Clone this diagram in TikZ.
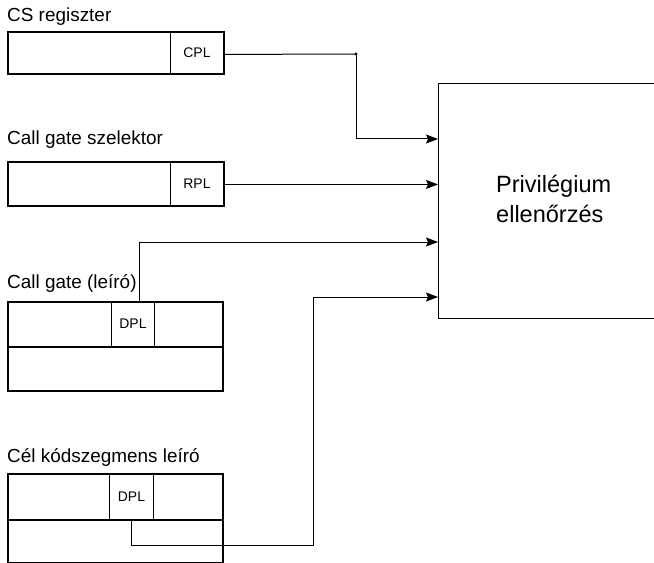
\documentclass[tikz,border=0pt]{standalone}
\usepackage{fontspec}
\setmainfont{Liberation Sans}
\usetikzlibrary{arrows.meta}
\begin{document}
\begin{tikzpicture}[x=1bp,y=-1bp,
  outer/.style={draw, line width=1.8bp, inner sep=0pt, anchor=north west},
  cellbox/.style={draw, line width=0.9bp, inner sep=0pt, anchor=north west,
    font=\fontsize{14}{16}\selectfont},
  title/.style={anchor=base west, inner sep=0pt, font=\fontsize{19}{22}\selectfont},
  big/.style={anchor=base west, inner sep=0pt, font=\fontsize{23.6}{28}\selectfont},
  wire/.style={line width=1bp},
  arr/.style={wire, -{Stealth[length=12bp,width=9bp,inset=2bp]}}]
\useasboundingbox (0,0) rectangle (654,563);
\clip (0,0) rectangle (654,563);

% CS register
\node[title] (tcs) at (7,22) {CS regiszter};
\node[cellbox, minimum width=53bp, minimum height=42bp] (cpl) at (170,31) {CPL};
\node[outer, minimum width=216bp, minimum height=42bp] (cs) at (7,31) {};

% call gate selector
\node[title] (tsel) at (7,145) {Call gate szelektor};
\node[cellbox, minimum width=53bp, minimum height=44bp] (rpl) at (170,161) {RPL};
\node[outer, minimum width=216bp, minimum height=44bp] (sel) at (7,161) {};

% call gate descriptor
\node[title] (tcgd) at (7,288) {Call gate (leíró)};
\node[cellbox, minimum width=43bp, minimum height=45bp] (cgdpl) at (111,301) {DPL};
\node[outer, minimum width=215bp, minimum height=89bp] (cgd) at (7,301) {};
\draw[line width=1.8bp] (cgd.west |- cgdpl.south) -- (cgd.east |- cgdpl.south);

% target code segment descriptor
\node[title] (tcel) at (7,462) {Cél kódszegmens leíró};
\node[cellbox, minimum width=44bp, minimum height=46bp] (celdpl) at (109,473) {DPL};
\node[outer, minimum width=215bp, minimum height=89bp] (cel) at (7,473) {};
\draw[line width=1.8bp] (cel.west |- celdpl.south) -- (cel.east |- celdpl.south);

% privilege check block
\node[draw, line width=0.9bp, inner sep=0pt, anchor=north west,
  minimum width=280bp, minimum height=235bp] (priv) at (438,83) {};
\node[big] (p1) at (496,193) {Privilégium};
\node[big] (p2) at (496,222) {ellenőrzés};

% inputs of the check block
\coordinate (in1) at ([yshift=-56bp]priv.north west);
\coordinate (in3) at ([yshift=-159bp]priv.north west);
\coordinate (in4) at ([yshift=-214bp]priv.north west);
\coordinate (jct) at (356,54);
\coordinate (bend) at (313,545);

\draw[wire] ([yshift=-2bp]cpl.east) -- (jct);
\fill (jct) circle (1.6bp);
\draw[arr] (jct) |- (in1);
\draw[arr] ([yshift=-1bp]rpl.east) -- ([yshift=-1bp]rpl.east -| priv.west);
\draw[arr] ([xshift=6.5bp]cgdpl.north) |- (in3);
\draw[arr] (celdpl.south) |- (bend) |- (in4);
\end{tikzpicture}
\end{document}
